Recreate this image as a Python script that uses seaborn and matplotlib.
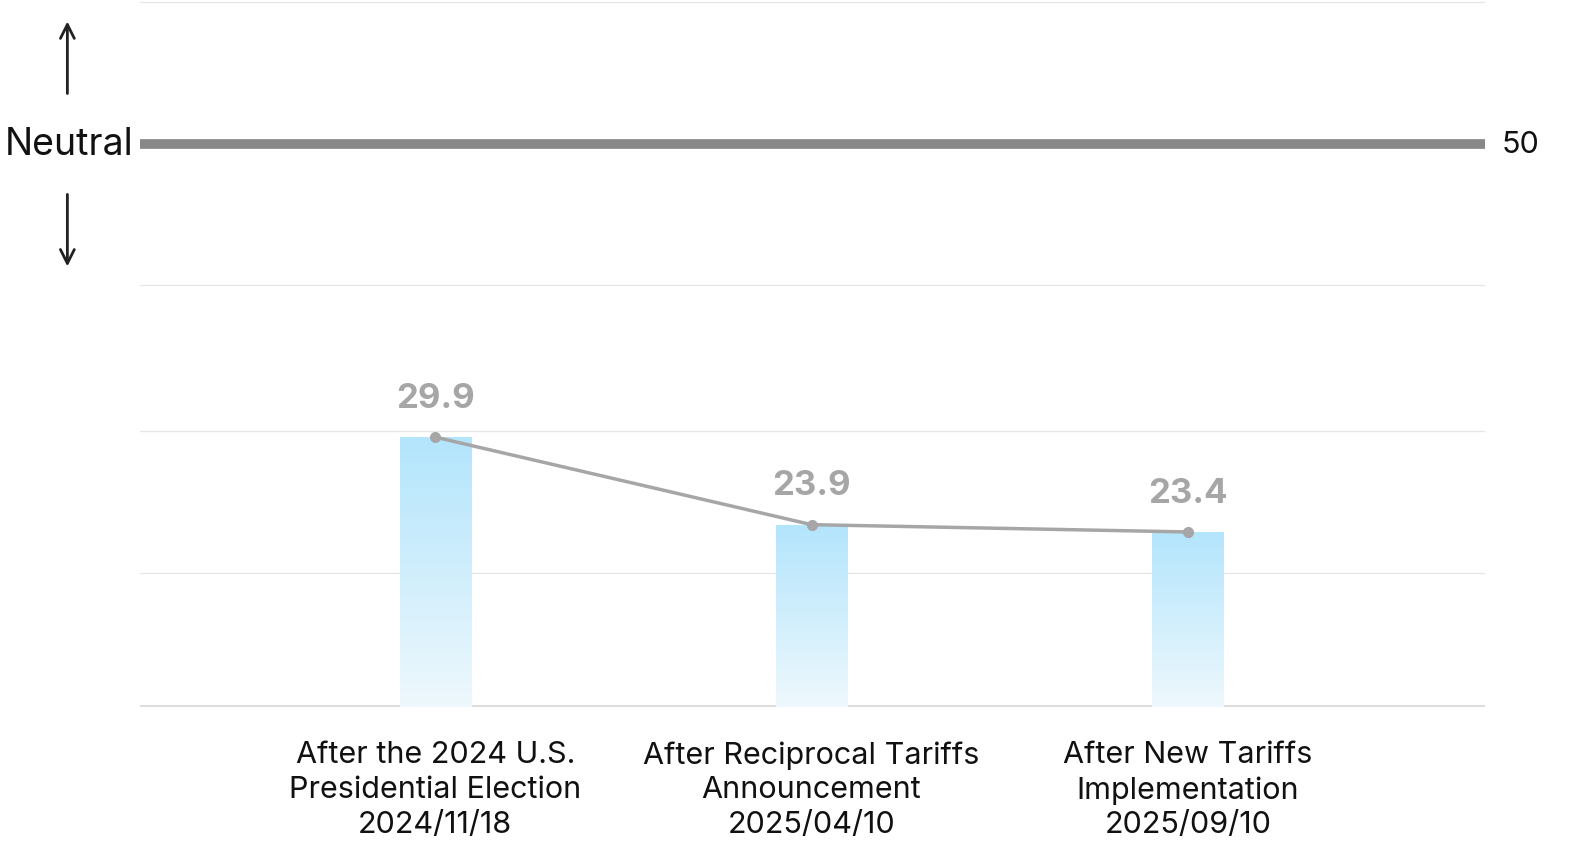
import matplotlib
matplotlib.use("Agg")
import matplotlib.pyplot as plt
import numpy as np
import pandas as pd
import seaborn as sns

categories = ["After the 2024 U.S.\nPresidential Election\n2024/11/18",
              "After Reciprocal Tariffs\nAnnouncement\n2025/04/10",
              "After New Tariffs\nImplementation\n2025/09/10"]
values = [29.9, 23.9, 23.4]
neutral = 50

sns.set_theme(style="white")
plt.rcParams['font.family'] = ['Inter', 'DejaVu Sans']

fig = plt.figure(figsize=(15.86, 8.54), dpi=100)
ax = fig.add_axes([140 / 1586, 1 - 708 / 854, 1345 / 1586, 706 / 854])

df = pd.DataFrame({"cat": categories, "val": values})
sns.barplot(data=df, x="cat", y="val", ax=ax, width=0.19, color="#b3e5fc", saturation=1)

ylim = (11.4, 59.8)

# gradient fill in each bar
grad = np.linspace(0, 1, 256).reshape(-1, 1)
cmap = matplotlib.colors.LinearSegmentedColormap.from_list("g", ["#eef8fd", "#b3e5fc"])
for p in ax.patches:
    p.set_facecolor("none")
    p.set_edgecolor("none")
    x0, w = p.get_x(), p.get_width()
    top = p.get_height()
    img = ax.imshow(grad, extent=[x0, x0 + w, ylim[0], top], origin="lower",
                    cmap=cmap, aspect="auto", zorder=1)
    img.set_clip_path(p)
ax.set_xlim(-0.785, 2.79)
ax.set_ylim(*ylim)

# gridlines
for g in [20.6, 30.3, 40.3, 59.7]:
    ax.axhline(g, color="#e6e6e6", lw=1, zorder=0)
ax.axhline(ylim[0] + 0.05, color="#dddddd", lw=1.5, zorder=0)

# neutral line
ax.axhline(neutral, color="#888888", lw=7, zorder=2)
ax.text(1.012, neutral, str(neutral), transform=ax.get_yaxis_transform(),
        ha="left", va="center", fontsize=22, color="#111111")
ax.text(-0.005, neutral, "Neutral", transform=ax.get_yaxis_transform(),
        ha="right", va="center", fontsize=27, color="#111111")
ax.annotate("", xy=(-0.054, 0.975), xytext=(-0.054, 0.865), xycoords="axes fraction",
            arrowprops=dict(arrowstyle="->", color="#222222", lw=2, mutation_scale=25))
ax.annotate("", xy=(-0.054, 0.62), xytext=(-0.054, 0.73), xycoords="axes fraction",
            arrowprops=dict(arrowstyle="->", color="#222222", lw=2, mutation_scale=25))

# line with markers
sns.lineplot(x=np.arange(len(values)), y=values, ax=ax, color="#a6a6a6", lw=2.5,
             marker="o", markersize=8, markeredgewidth=0, zorder=4)
for i, v in enumerate(values):
    ax.text(i, v + 1.6, f"{v}", ha="center", va="bottom", fontsize=25,
            fontweight="bold", color="#a6a6a6")

ax.set_xticks(range(len(categories)))
ax.set_xticklabels(categories, fontsize=22, color="#111111", linespacing=1.3)
ax.tick_params(axis="x", length=0, pad=24)
ax.set_yticks([])
ax.set_xlabel("")
ax.set_ylabel("")
sns.despine(ax=ax, left=True, bottom=True)

fig.savefig("out.png", dpi=100)
